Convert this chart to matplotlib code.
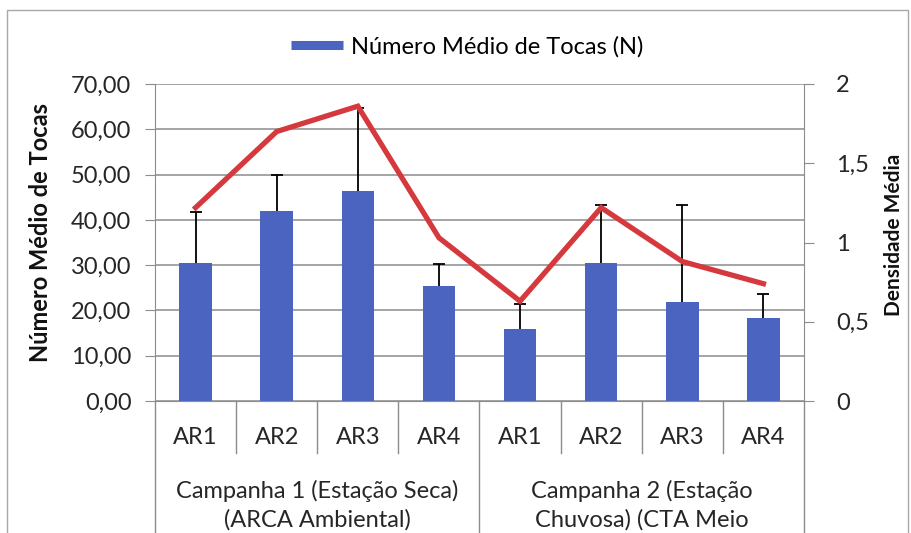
import matplotlib
matplotlib.use("Agg")
import matplotlib.pyplot as plt
import matplotlib.transforms as mtransforms
from matplotlib.lines import Line2D
from matplotlib.patches import Rectangle
from matplotlib.ticker import FuncFormatter, FixedLocator
import numpy as np

# ---------------- data ----------------
categories = ["AR1", "AR2", "AR3", "AR4", "AR1", "AR2", "AR3", "AR4"]
groups = [
    ["Campanha 1 (Estação Seca)", "(ARCA Ambiental)"],
    ["Campanha 2 (Estação", "Chuvosa) (CTA Meio"],
]
group_sizes = [4, 4]
mean_tocas = [30.5, 42.0, 46.4, 25.5, 15.8, 30.4, 21.8, 18.3]
err_tocas = [11.2, 8.0, 18.2, 4.8, 5.7, 12.8, 21.4, 5.3]
densidade = [1.22, 1.70, 1.86, 1.03, 0.63, 1.22, 0.88, 0.74]
left_ticks = [0, 10, 20, 30, 40, 50, 60, 70]
right_ticks = [0, 0.5, 1, 1.5, 2]
legend_label = "Número Médio de Tocas (N)"
left_label = "Número Médio de Tocas"
right_label = "Densidade Média"

# ---------------- style ----------------
plt.rcParams['font.family'] = ['Lato', 'DejaVu Sans']
BLUE = "#4A64C0"
RED = "#D6393D"
GRID = "#8C8C8C"
TXT = "#262626"
FS = 17

W, H = 912, 533
fig = plt.figure(figsize=(W / 100, H / 100), dpi=100)
L, R, B, T = 155, 804, 401, 84
ax = fig.add_axes([L / W, 1 - B / H, (R - L) / W, (B - T) / H])
ax2 = ax.twinx()

x = np.arange(len(categories))
ax.bar(x, mean_tocas, width=0.4, color=BLUE, zorder=2)
_, caps, _ = ax.errorbar(x, mean_tocas, yerr=[np.zeros(len(x)), err_tocas], fmt='none',
                         ecolor='black', elinewidth=1.3, capsize=4.3, capthick=1.3, zorder=3)
caps[0].set_visible(False)  # no cap at the bar top (upper error only)

ax2.plot(x, densidade, color=RED, lw=3.8, solid_joinstyle='miter', zorder=4)

ax.set_xlim(-0.5, len(categories) - 0.5)
ax.set_ylim(0, 70)
ax2.set_ylim(0, 2)

ax.yaxis.set_major_locator(FixedLocator(left_ticks))
ax.yaxis.set_major_formatter(FuncFormatter(lambda v, p: f"{v:.2f}".replace('.', ',')))
ax2.yaxis.set_major_locator(FixedLocator(right_ticks))
ax2.yaxis.set_major_formatter(FuncFormatter(lambda v, p: (f"{v:g}").replace('.', ',')))

ax.grid(axis='y', color=GRID, lw=1.1, zorder=0)
ax.set_axisbelow(True)
ax.set_xticks([])

for a in (ax, ax2):
    for s in a.spines.values():
        s.set_visible(False)
ax.spines['left'].set_visible(True)
ax.spines['left'].set_color(GRID)
ax.spines['bottom'].set_visible(True)
ax.spines['bottom'].set_color(GRID)
ax2.spines['right'].set_visible(True)
ax2.spines['right'].set_color(GRID)

ax.tick_params(axis='y', length=7, color=GRID, labelsize=FS, pad=10, labelcolor=TXT)
ax2.tick_params(axis='y', length=7, color=GRID, labelsize=FS, pad=16, labelcolor=TXT)

def fy(py):
    return 1 - py / H

# axis titles placed at the reference positions
fig.text(41 / W, fy(232), left_label, rotation=90, ha='center', va='center',
         fontsize=FS, fontweight='bold', color='#111111')
fig.text(894 / W, fy(235), right_label, rotation=90, ha='center', va='center',
         fontsize=15, fontweight='bold', color='#111111')

# ------------- multi-level category axis -------------
trans = mtransforms.blended_transform_factory(ax.transData, fig.transFigure)

for i, c in enumerate(categories):
    ax.text(i, fy(438), c, transform=trans, ha='center', va='center',
            fontsize=FS, color=TXT)

edges = [-0.5]
for n in group_sizes:
    edges.append(edges[-1] + n)
for b in np.arange(-0.5, len(categories)):
    if b in edges:
        y0 = fy(H + 5)
    else:
        y0 = fy(453)
    fig.add_artist(Line2D([b, b], [fy(B), y0], transform=trans, color=GRID, lw=1.0))

for gi, lines in enumerate(groups):
    cx = (edges[gi] + edges[gi + 1]) / 2
    for li, t in enumerate(lines):
        ax.text(cx, fy(491 + li * 29), t, transform=trans, ha='center', va='center',
                fontsize=FS, color=TXT)

# ------------- legend -------------
handle = Line2D([0], [0], color=BLUE, lw=6.5, solid_capstyle='butt')
fig.legend([handle], [legend_label], loc='center', bbox_to_anchor=(467 / W, fy(47)),
           frameon=False, fontsize=FS, handlelength=2.2, handletextpad=0.35)

# ------------- outer chart border -------------
fig.add_artist(Rectangle((7 / W, fy(H + 10)), (908 - 7) / W, (H + 10 - 10) / H,
                         transform=fig.transFigure, fill=False, edgecolor='#A8A8A8', lw=1.0))

fig.savefig("out.png", dpi=100)
